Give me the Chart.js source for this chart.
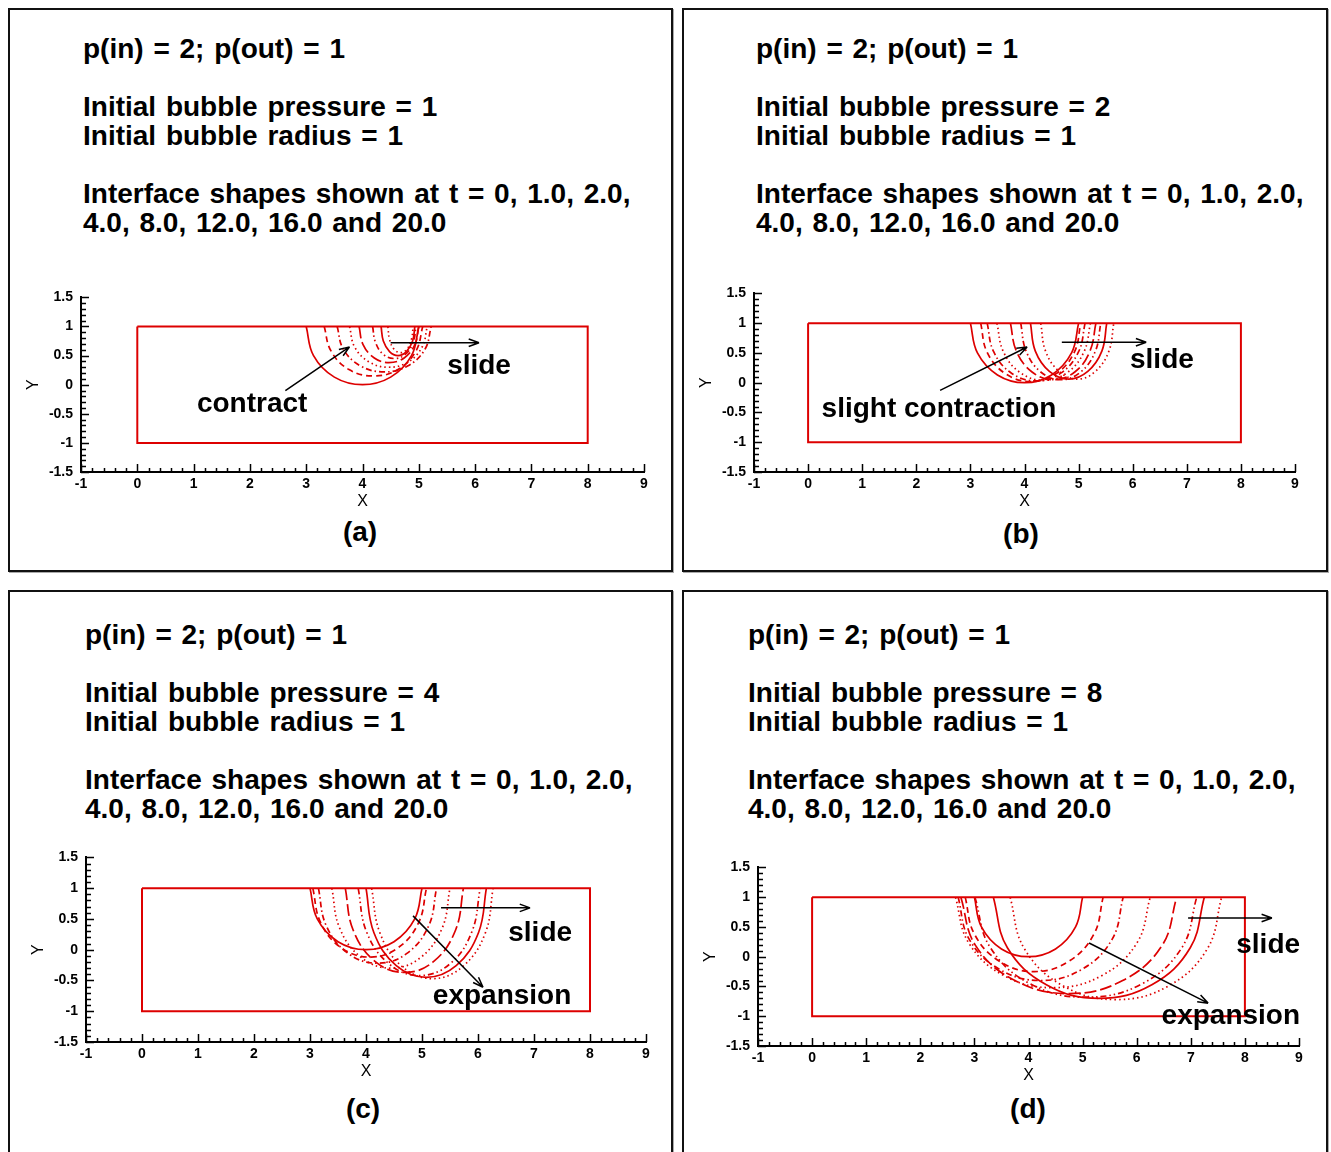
<!DOCTYPE html>
<html>
<head>
<meta charset="utf-8">
<script src="https://cdn.jsdelivr.net/npm/chart.js@4.4.0/dist/chart.umd.min.js"></script>
<style>
body { margin:0; background:#fff; width:1331px; height:1152px; position:relative; overflow:hidden; font-family:"Liberation Sans", Arial, sans-serif; }
.panel { position:absolute; border:2px solid #111; box-sizing:border-box; box-shadow:1px 1px 0 #aaa; }
.head { position:absolute; font-weight:bold; font-size:28px; line-height:29px; word-spacing:2px; white-space:pre; color:#000; }
.tag { position:absolute; font-weight:bold; font-size:28px; transform:translate(-50%,-50%); color:#000; }
canvas { position:absolute; }
</style>
</head>
<body>
<script>
// axis ticks and time labels
var xTicks = [-1, 0, 1, 2, 3, 4, 5, 6, 7, 8, 9];
var yTicks = [-1.5, -1, -0.5, 0, 0.5, 1, 1.5];
var times = ['0', '1.0', '2.0', '4.0', '8.0', '12.0', '16.0', '20.0'];

// the red box (domain)
var boxX = [0, 8, 8, 0, 0];
var boxY = [1, 1, -1, -1, 1];

// header texts
var pressures = ['1', '2', '4', '8'];
var panelTags = ['(a)', '(b)', '(c)', '(d)'];

// interface shapes, one list of [x, y] per time
var shapesA = [
  [[3.00,1],[3.13,0.50],[3.50,0.13],[4.00,0.00],[4.50,0.13],[4.87,0.50],[5.00,1]],
  [[3.32,1],[3.44,0.58],[3.76,0.26],[4.20,0.15],[4.63,0.26],[4.95,0.58],[5.07,1]],
  [[3.55,1],[3.66,0.61],[3.97,0.32],[4.39,0.22],[4.80,0.32],[5.11,0.61],[5.22,1]],
  [[3.77,1],[3.86,0.65],[4.12,0.39],[4.46,0.30],[4.81,0.39],[5.06,0.65],[5.15,1]],
  [[3.94,1],[4.01,0.69],[4.21,0.46],[4.47,0.38],[4.74,0.46],[4.93,0.69],[5.00,1]],
  [[4.18,1],[4.23,0.73],[4.37,0.52],[4.57,0.45],[4.76,0.52],[4.90,0.73],[4.95,1]],
  [[4.33,1],[4.37,0.75],[4.48,0.57],[4.63,0.50],[4.78,0.57],[4.89,0.75],[4.93,1]],
  [[4.45,1],[4.48,0.78],[4.56,0.61],[4.68,0.55],[4.79,0.61],[4.87,0.78],[4.90,1]]
];
var shapesB = [
  [[3.00,1],[3.13,0.50],[3.50,0.13],[4.00,0.00],[4.50,0.13],[4.87,0.50],[5.00,1]],
  [[3.19,1],[3.31,0.51],[3.65,0.15],[4.12,0.02],[4.58,0.15],[4.92,0.51],[5.04,1]],
  [[3.31,1],[3.43,0.52],[3.76,0.16],[4.22,0.03],[4.67,0.16],[5.00,0.52],[5.12,1]],
  [[3.49,1],[3.61,0.52],[3.92,0.17],[4.36,0.04],[4.79,0.17],[5.10,0.52],[5.22,1]],
  [[3.74,1],[3.85,0.53],[4.14,0.18],[4.53,0.05],[4.93,0.18],[5.21,0.53],[5.32,1]],
  [[3.93,1],[4.03,0.53],[4.30,0.18],[4.67,0.05],[5.04,0.18],[5.31,0.53],[5.41,1]],
  [[4.11,1],[4.20,0.53],[4.46,0.19],[4.82,0.06],[5.17,0.19],[5.43,0.53],[5.52,1]],
  [[4.30,1],[4.39,0.53],[4.64,0.19],[4.98,0.06],[5.31,0.19],[5.56,0.53],[5.65,1]]
];
var shapesC = [
  [[3.00,1],[3.13,0.50],[3.50,0.13],[4.00,0.00],[4.50,0.13],[4.87,0.50],[5.00,1]],
  [[3.05,1],[3.19,0.44],[3.56,0.03],[4.07,-0.12],[4.57,0.03],[4.94,0.44],[5.08,1]],
  [[3.15,1],[3.29,0.39],[3.68,-0.06],[4.21,-0.22],[4.73,-0.06],[5.12,0.39],[5.26,1]],
  [[3.39,1],[3.53,0.35],[3.92,-0.13],[4.45,-0.30],[4.97,-0.13],[5.36,0.35],[5.50,1]],
  [[3.63,1],[3.77,0.32],[4.16,-0.19],[4.69,-0.37],[5.21,-0.19],[5.60,0.32],[5.74,1]],
  [[3.86,1],[4.01,0.29],[4.41,-0.23],[4.95,-0.42],[5.50,-0.23],[5.89,0.29],[6.04,1]],
  [[4.00,1],[4.14,0.28],[4.54,-0.26],[5.08,-0.45],[5.61,-0.26],[6.01,0.28],[6.15,1]],
  [[4.10,1],[4.25,0.27],[4.64,-0.27],[5.19,-0.47],[5.73,-0.27],[6.13,0.27],[6.27,1]]
];
var shapesD = [
  [[3.00,1],[3.13,0.50],[3.50,0.13],[4.00,0.00],[4.50,0.13],[4.87,0.50],[5.00,1]],
  [[2.83,1],[3.00,0.38],[3.47,-0.08],[4.11,-0.25],[4.74,-0.08],[5.21,0.38],[5.38,1]],
  [[2.70,1],[2.90,0.30],[3.46,-0.21],[4.23,-0.40],[4.99,-0.21],[5.55,0.30],[5.75,1]],
  [[2.65,1],[2.89,0.24],[3.55,-0.32],[4.45,-0.52],[5.35,-0.32],[6.01,0.24],[6.25,1]],
  [[2.75,1],[3.02,0.19],[3.75,-0.40],[4.75,-0.62],[5.74,-0.40],[6.47,0.19],[6.74,1]],
  [[3.01,1],[3.29,0.16],[4.04,-0.46],[5.06,-0.68],[6.09,-0.46],[6.84,0.16],[7.11,1]],
  [[3.35,1],[3.61,0.15],[4.33,-0.47],[5.30,-0.70],[6.28,-0.47],[6.99,0.15],[7.25,1]],
  [[3.66,1],[3.92,0.14],[4.64,-0.49],[5.62,-0.72],[6.59,-0.49],[7.31,0.14],[7.57,1]]
];

// annotations, in data units
var notesA = { words: [['contract', 2.04, -0.34], ['slide', 6.07, 0.32]],
  arrows: [[2.63, -0.10, 3.77, 0.65], [4.50, 0.72, 6.07, 0.72]] };
var notesB = { words: [['slight contraction', 2.42, -0.45], ['slide', 6.54, 0.37]],
  arrows: [[2.44, -0.13, 4.05, 0.60], [4.69, 0.68, 6.25, 0.68]] };
var notesC = { words: [['slide', 7.11, 0.27], ['expansion', 6.43, -0.76]],
  arrows: [[4.84, 0.55, 6.09, -0.61], [5.34, 0.68, 6.93, 0.68]] };
var notesD = { words: [['slide', 8.43, 0.20], ['expansion', 7.74, -1.00]],
  arrows: [[5.12, 0.23, 7.32, -0.78], [6.95, 0.65, 8.50, 0.65]] };

// line patterns for the 8 times (tecplot-like cycle)
var dashes = [[], [6,4], [6,3,1.5,3], [1.5,3], [12,4], [6,3,1.5,3,1.5,3], [], [1.5,3]];
var red = '#dd0000';
var fam = '"Liberation Sans", Arial, sans-serif';

function addPanel(l, t, w, h) {
  var d = document.createElement('div');
  d.className = 'panel';
  d.style.left = l + 'px'; d.style.top = t + 'px';
  d.style.width = w + 'px'; d.style.height = h + 'px';
  document.body.appendChild(d);
}
function addHead(l, t, pr) {
  var d = document.createElement('div');
  d.className = 'head';
  d.style.left = l + 'px'; d.style.top = t + 'px';
  d.textContent = 'p(in) = 2; p(out) = 1\n\nInitial bubble pressure = ' + pr +
    '\nInitial bubble radius = 1\n\nInterface shapes shown at t = 0, 1.0, 2.0,\n4.0, 8.0, 12.0, 16.0 and 20.0';
  document.body.appendChild(d);
}
function addTag(x, y, txt) {
  var d = document.createElement('div');
  d.className = 'tag';
  d.style.left = x + 'px'; d.style.top = y + 'px';
  d.textContent = txt;
  document.body.appendChild(d);
}

// inward ticks, major and minor
var axisTicks = {
  id: 'axisTicks',
  afterDraw: function(chart) {
    var ctx = chart.ctx, a = chart.chartArea, sx = chart.scales.x, sy = chart.scales.y;
    ctx.save();
    ctx.strokeStyle = '#000';
    ctx.lineWidth = 1.5;
    ctx.beginPath();
    for (var i = 0; i <= 50; i++) {
      var px = Math.round(sx.getPixelForValue(-1 + i * 0.2)) + 0.5;
      var len = i % 5 === 0 ? 8 : 4;
      ctx.moveTo(px, a.bottom); ctx.lineTo(px, a.bottom - len);
    }
    for (var j = 0; j <= 30; j++) {
      var py = Math.round(sy.getPixelForValue(-1.5 + j * 0.1)) + 0.5;
      var len2 = j % 5 === 0 ? 8 : 5;
      ctx.moveTo(a.left, py); ctx.lineTo(a.left + len2, py);
    }
    ctx.stroke();
    ctx.restore();
  }
};

// arrows and words
var notes = {
  id: 'notes',
  afterDatasetsDraw: function(chart, args, opts) {
    var ctx = chart.ctx, sx = chart.scales.x, sy = chart.scales.y;
    ctx.save();
    ctx.strokeStyle = '#000';
    ctx.fillStyle = '#000';
    ctx.lineWidth = 1.5;
    (opts.arrows || []).forEach(function(r) {
      var x1 = sx.getPixelForValue(r[0]), y1 = sy.getPixelForValue(r[1]);
      var x2 = sx.getPixelForValue(r[2]), y2 = sy.getPixelForValue(r[3]);
      var ang = Math.atan2(y2 - y1, x2 - x1);
      ctx.beginPath();
      ctx.moveTo(x1, y1); ctx.lineTo(x2, y2);
      ctx.moveTo(x2, y2); ctx.lineTo(x2 - 11 * Math.cos(ang - 0.35), y2 - 11 * Math.sin(ang - 0.35));
      ctx.moveTo(x2, y2); ctx.lineTo(x2 - 11 * Math.cos(ang + 0.35), y2 - 11 * Math.sin(ang + 0.35));
      ctx.stroke();
    });
    ctx.font = 'bold 28px ' + fam;
    ctx.textAlign = 'center';
    ctx.textBaseline = 'middle';
    (opts.words || []).forEach(function(w) {
      ctx.fillText(w[0], sx.getPixelForValue(w[1]), sy.getPixelForValue(w[2]));
    });
    ctx.restore();
  }
};

function makeChart(left, top, width, height, shapes, note) {
  var canva = document.createElement('canvas');
  canva.width = width; canva.height = height;
  canva.style.left = left + 'px'; canva.style.top = top + 'px';
  canva.style.width = width + 'px'; canva.style.height = height + 'px';
  document.body.appendChild(canva);

  var sets = [{
    label: 'domain',
    data: boxX.map(function(v, i) { return { x: v, y: boxY[i] }; }),
    showLine: true, borderColor: red, borderWidth: 2, pointRadius: 0, tension: 0
  }];
  shapes.forEach(function(s, k) {
    sets.push({
      label: 't = ' + times[k],
      data: s.map(function(p) { return { x: p[0], y: p[1] }; }),
      showLine: true, borderColor: red, borderWidth: 1.7, borderDash: dashes[k],
      pointRadius: 0, tension: 0.4
    });
  });

  var tickFont = { family: fam, size: 14, weight: 'bold' };
  return new Chart(canva, {
    type: 'scatter',
    data: { datasets: sets },
    options: {
      responsive: false,
      animation: false,
      devicePixelRatio: 1,
      layout: { padding: { top: 15, right: 15, bottom: 0, left: 0 } },
      plugins: { legend: { display: false }, tooltip: { enabled: false }, notes: note },
      scales: {
        x: {
          type: 'linear', min: -1, max: 9,
          afterBuildTicks: function(s) { s.ticks = xTicks.map(function(v) { return { value: v }; }); },
          afterFit: function(s) { s.height = 42; },
          grid: { display: false, drawTicks: false },
          border: { display: true, color: '#000', width: 2 },
          ticks: { color: '#000', font: tickFont, padding: 4, maxRotation: 0, autoSkip: false,
            callback: function(v) { return String(v); } },
          title: { display: true, text: 'X', color: '#000', font: { family: fam, size: 16 }, padding: { top: 0, bottom: 3 } }
        },
        y: {
          type: 'linear', min: -1.5, max: 1.5,
          afterBuildTicks: function(s) { s.ticks = yTicks.map(function(v) { return { value: v }; }); },
          afterFit: function(s) { s.width = 62; },
          grid: { display: false, drawTicks: false },
          border: { display: true, color: '#000', width: 2 },
          ticks: { color: '#000', font: tickFont, padding: 8, autoSkip: false,
            callback: function(v) { return String(v); } },
          title: { display: true, text: 'Y', color: '#000', font: { family: fam, size: 16 }, padding: { top: 5, bottom: 0 } }
        }
      }
    },
    plugins: [axisTicks, notes]
  });
}

addPanel(8, 8, 665, 564);
addPanel(682, 8, 646, 564);
addPanel(8, 590, 665, 580);
addPanel(682, 590, 646, 580);

addHead(83, 34, pressures[0]);
addHead(756, 34, pressures[1]);
addHead(85, 620, pressures[2]);
addHead(748, 620, pressures[3]);

var chartA = makeChart(19, 281, 640, 233, shapesA, notesA);
var chartB = makeChart(692, 277, 618, 237, shapesB, notesB);
var chartC = makeChart(24, 841, 637, 243, shapesC, notesC);
var chartD = makeChart(696, 851, 618, 237, shapesD, notesD);

addTag(360, 532, panelTags[0]);
addTag(1021, 534, panelTags[1]);
addTag(363, 1109, panelTags[2]);
addTag(1028, 1109, panelTags[3]);
</script>
</body>
</html>
